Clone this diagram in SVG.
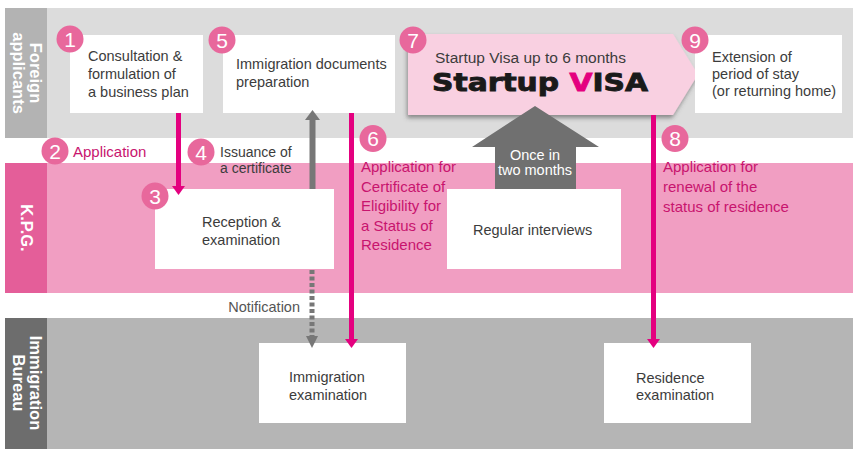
<svg xmlns="http://www.w3.org/2000/svg" width="858" height="460" viewBox="0 0 858 460">
<defs>
<style>
text{font-family:"Liberation Sans",Arial,sans-serif;}
.t{font-size:14.5px;fill:#3c3c3c;}
.pk{font-size:15px;fill:#c8146e;}
.lane{font-size:16.5px;font-weight:bold;fill:#fff;text-anchor:middle;}
.box{fill:#fff;}
.num circle{fill:#e8689c;}
.num text{font-size:21px;fill:#fff;text-anchor:middle;}
.mg{stroke:#e4007f;stroke-width:5;fill:none;}
.gr{stroke:#777;stroke-width:6;fill:none;}
.grd{stroke:#777;stroke-width:5;fill:none;stroke-dasharray:4 2.5;}
</style>
<marker id="mpk" markerUnits="userSpaceOnUse" markerWidth="10" markerHeight="14" viewBox="0 -7 10 14" refX="0" refY="0" orient="auto"><path d="M0,-6.5 L9,0 L0,6.5 Z" fill="#e4007f"/></marker>
<marker id="mgr" markerUnits="userSpaceOnUse" markerWidth="11" markerHeight="16" viewBox="0 -8 11 16" refX="0" refY="0" orient="auto"><path d="M0,-7.5 L10,0 L0,7.5 Z" fill="#777"/></marker>
<marker id="mgd" markerUnits="userSpaceOnUse" markerWidth="13" markerHeight="14" viewBox="0 -7 13 14" refX="0" refY="0" orient="auto"><path d="M0,-6 L12,0 L0,6 Z" fill="#777"/></marker>
<filter id="sh" x="-5%" y="-10%" width="115%" height="130%"><feDropShadow dx="-1" dy="3" stdDeviation="2" flood-color="#444" flood-opacity="0.55"/></filter>
</defs>
<rect width="858" height="460" fill="#fff"/>

<g id="lanes">
<rect x="5" y="8" width="848" height="130" fill="#dcdcdc"/>
<rect x="5" y="8" width="42" height="130" fill="#b3b3b3"/>
<text class="lane" transform="translate(26.5,73) rotate(90)"><tspan x="0" y="-3.5">Foreign</tspan><tspan x="0" y="13.5">applicants</tspan></text>
<rect x="5" y="163" width="848" height="130" fill="#f19ec2"/>
<rect x="5" y="163" width="42" height="130" fill="#e45e99"/>
<text class="lane" transform="translate(26.5,228) rotate(90)" x="0" y="5.5">K.P.G.</text>
<rect x="5" y="318" width="848" height="131" fill="#b5b5b5"/>
<rect x="5" y="318" width="42" height="131" fill="#6d6d6d"/>
<text class="lane" transform="translate(26.5,383) rotate(90)"><tspan x="0" y="-3.5">Immigration</tspan><tspan x="0" y="13.5">Bureau</tspan></text>
</g>

<g id="node1">
<rect class="box" x="70" y="35" width="133" height="78"/>
<text class="t"><tspan x="88" y="61">Consultation &amp;</tspan><tspan x="88" y="79">formulation of</tspan><tspan x="88" y="97">a business plan</tspan></text>
<g class="num"><circle cx="70" cy="39" r="13.5"/><text x="70" y="46.5">1</text></g>
</g>

<g id="node5">
<rect class="box" x="223" y="35" width="172" height="78"/>
<text class="t"><tspan x="236" y="69">Immigration documents</tspan><tspan x="236" y="87">preparation</tspan></text>
<g class="num"><circle cx="222" cy="40" r="13.5"/><text x="222" y="47.5">5</text></g>
</g>

<g id="node7">
<polygon points="408,34 673,34 698,74.5 673,115 408,115" fill="#f9d0e1" filter="url(#sh)"/>
<text x="435" y="63" style="font-size:15.5px;fill:#3c3c3c">Startup Visa up to 6 months</text>
<text x="432" y="91" textLength="216" lengthAdjust="spacingAndGlyphs" stroke="#1a1a1a" stroke-width="0.9" style="font-size:25px;font-weight:900;fill:#1a1a1a;font-family:'DejaVu Sans','Liberation Sans',sans-serif">Startup <tspan fill="#e4007f" stroke="#e4007f">V</tspan>ISA</text>
<g class="num"><circle cx="413" cy="40" r="13.5"/><text x="413" y="47.5">7</text></g>
</g>

<g id="node9">
<rect class="box" x="695" y="35" width="147" height="78"/>
<text class="t"><tspan x="712" y="62">Extension of</tspan><tspan x="712" y="79">period of stay</tspan><tspan x="712" y="96">(or returning home)</tspan></text>
<g class="num"><circle cx="695" cy="40" r="13.5"/><text x="695" y="47.5">9</text></g>
</g>

<g id="node3">
<rect class="box" x="155" y="189" width="179" height="80"/>
<text class="t"><tspan x="202" y="227">Reception &amp;</tspan><tspan x="202" y="245">examination</tspan></text>
</g>

<g id="nodeInterviews">
<rect class="box" x="447" y="189" width="174" height="80"/>
<text class="t" x="473" y="235">Regular interviews</text>
</g>

<g id="nodeImmigrationExam">
<rect class="box" x="259" y="343" width="147" height="80"/>
<text class="t"><tspan x="289" y="382">Immigration</tspan><tspan x="289" y="400">examination</tspan></text>
</g>

<g id="nodeResidenceExam">
<rect class="box" x="604" y="343" width="147" height="80"/>
<text class="t"><tspan x="636" y="383">Residence</tspan><tspan x="636" y="400">examination</tspan></text>
</g>

<g id="connectors">
<line class="mg" x1="178.5" y1="113" x2="178.5" y2="186" marker-end="url(#mpk)"/>
<line class="gr" x1="312.5" y1="189" x2="312.5" y2="120" marker-end="url(#mgr)"/>
<line class="grd" x1="312" y1="270" x2="312" y2="336" marker-end="url(#mgd)"/>
<line class="mg" x1="351.5" y1="113" x2="351.5" y2="339" marker-end="url(#mpk)"/>
<line class="mg" x1="653.5" y1="115" x2="653.5" y2="339" marker-end="url(#mpk)"/>
<polygon points="535,106 599,147 576,147 576,189 495,189 495,147 472,147" fill="#707070"/>
<text style="font-size:14.5px;fill:#fff;text-anchor:middle"><tspan x="535" y="160">Once in</tspan><tspan x="535" y="175">two months</tspan></text>
<text class="t" x="300" y="312" text-anchor="end" style="fill:#555">Notification</text>
</g>

<g id="labels">
<g class="num"><circle cx="55" cy="151" r="13.5"/><text x="55" y="158.5">2</text></g>
<text class="pk" x="73" y="157">Application</text>
<g class="num"><circle cx="201" cy="152" r="13.5"/><text x="201" y="159.5">4</text></g>
<text class="t" style="font-size:14px"><tspan x="220" y="157">Issuance of</tspan><tspan x="220" y="172.5">a certificate</tspan></text>
<g class="num"><circle cx="373" cy="138.5" r="13.5"/><text x="373" y="146">6</text></g>
<text class="pk"><tspan x="361" y="172">Application for</tspan><tspan x="361" y="191.5">Certificate of</tspan><tspan x="361" y="211">Eligibility for</tspan><tspan x="361" y="230.5">a Status of</tspan><tspan x="361" y="250">Residence</tspan></text>
<g class="num"><circle cx="155" cy="196" r="13.5"/><text x="155" y="203.5">3</text></g>
<g class="num"><circle cx="675" cy="138.5" r="13.5"/><text x="675" y="146">8</text></g>
<text class="pk"><tspan x="663" y="172">Application for</tspan><tspan x="663" y="192">renewal of the</tspan><tspan x="663" y="212">status of residence</tspan></text>
</g>
</svg>
